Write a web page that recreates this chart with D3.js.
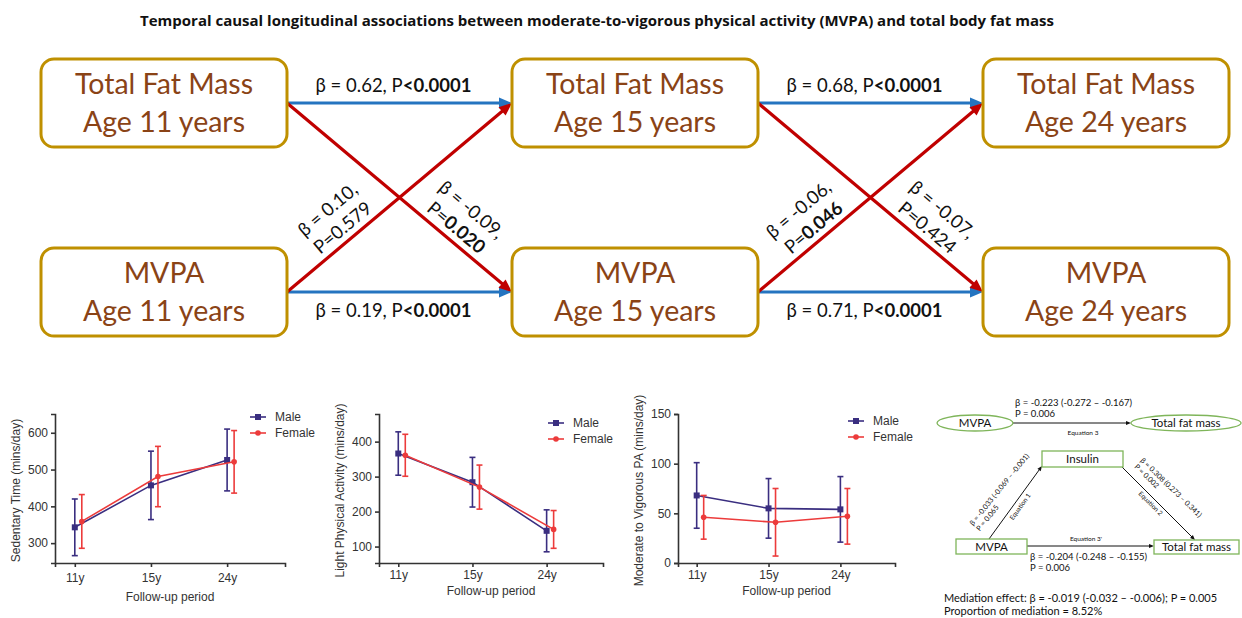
<!DOCTYPE html>
<html>
<head>
<meta charset="utf-8">
<script src="https://cdn.jsdelivr.net/npm/d3@7"></script>
<style>
  body { margin: 0; background: #fff; }
  svg { display: block; }
</style>
</head>
<body>
<svg id="fig" width="1242" height="618"></svg>
<script>
const title = 'Temporal causal longitudinal associations between moderate-to-vigorous physical activity (MVPA) and total body fat mass';

// cross-lagged diagram
const ages = ['11', '15', '24'];
const measures = ['Total Fat Mass', 'MVPA'];
// from/to = [measure index, age index]
const pathEdges = [
  { from: [0, 0], to: [0, 1], beta: '0.62', op: '<', p: '0.0001', sig: true },
  { from: [1, 0], to: [1, 1], beta: '0.19', op: '<', p: '0.0001', sig: true },
  { from: [1, 0], to: [0, 1], beta: '0.10', op: '=', p: '0.579', sig: false },
  { from: [0, 0], to: [1, 1], beta: '-0.09', op: '=', p: '0.020', sig: true },
  { from: [0, 1], to: [0, 2], beta: '0.68', op: '<', p: '0.0001', sig: true },
  { from: [1, 1], to: [1, 2], beta: '0.71', op: '<', p: '0.0001', sig: true },
  { from: [1, 1], to: [0, 2], beta: '-0.06', op: '=', p: '0.046', sig: true },
  { from: [0, 1], to: [1, 2], beta: '-0.07', op: '=', p: '0.424', sig: false }
];

// line charts (mean and SD)
const followUp = ['11y', '15y', '24y'];
const sedMale = [343, 457, 526];
const sedMaleSd = [77, 93, 84];
const sedFemale = [359, 481, 521];
const sedFemaleSd = [73, 82, 85];
const lpaMale = [366, 284, 145];
const lpaMaleSd = [62, 71, 60];
const lpaFemale = [361, 270, 149];
const lpaFemaleSd = [60, 63, 54];
const mvpaMale = [68, 55, 54];
const mvpaMaleSd = [33, 30, 33];
const mvpaFemale = [46, 41, 47];
const mvpaFemaleSd = [22, 34, 28];

// mediation
const medTotal = { beta: '-0.223', ci: '-0.272 – -0.167', p: '0.006' };
const medEq1 = { beta: '-0.033', ci: '-0.069 – -0.001', p: '0.065' };
const medEq2 = { beta: '0.308', ci: '0.273 – 0.341', p: '0.002' };
const medDirect = { beta: '-0.204', ci: '-0.248 – -0.155', p: '0.006' };
const medEffect = 'Mediation effect: β = -0.019 (-0.032 – -0.006); P = 0.005';
const medProportion = 'Proportion of mediation = 8.52%';

const svg = d3.select('#fig');
const BLUE = '#2474c0', RED = '#c00000', GOLD = '#bf9000', BROWN = '#8a4316';
const MALE = '#3a2e80', FEMALE = '#ec3b3b';
const diagFont = 'Lato, "Open Sans", sans-serif';
const chartFont = '"Liberation Sans", Arial, sans-serif';

// title
svg.append('text')
  .attr('x', 597).attr('y', 26)
  .attr('text-anchor', 'middle')
  .attr('font-family', '"Open Sans", sans-serif').attr('font-weight', 700).attr('font-size', 15)
  .attr('fill', '#111')
  .text(title);

// ---------- cross-lagged diagram ----------
const boxW = 246, boxH = 88;
const colX = d3.scaleLinear().domain([0, 2]).range([41, 983]);
const rowY = d3.scaleLinear().domain([0, 1]).range([59, 248]);

function arrow(g, x1, y1, x2, y2, color, w, headL, headW) {
  const dx = x2 - x1, dy = y2 - y1, len = Math.hypot(dx, dy);
  const ux = dx / len, uy = dy / len;
  const bx = x2 - ux * headL, by = y2 - uy * headL;
  g.append('line')
    .attr('x1', x1).attr('y1', y1).attr('x2', bx + ux * 1).attr('y2', by + uy * 1)
    .attr('stroke', color).attr('stroke-width', w);
  g.append('path')
    .attr('d', `M${x2},${y2}L${bx - uy * headW / 2},${by + ux * headW / 2}L${bx + uy * headW / 2},${by - ux * headW / 2}Z`)
    .attr('fill', color);
}

const diag = svg.append('g');
const straight = pathEdges.filter(e => e.from[0] === e.to[0]);
const cross = pathEdges.filter(e => e.from[0] !== e.to[0]);

[...straight, ...cross].forEach(e => {
  const x1 = colX(e.from[1]) + boxW, y1 = rowY(e.from[0]) + boxH / 2;
  const x2 = colX(e.to[1]), y2 = rowY(e.to[0]) + boxH / 2;
  arrow(diag, x1, y1, x2, y2, e.from[0] === e.to[0] ? BLUE : RED, 3.2, 13, 11);
});

// boxes
measures.forEach((m, mi) => {
  ages.forEach((a, ai) => {
    const g = diag.append('g').attr('transform', `translate(${colX(ai)},${rowY(mi)})`);
    g.append('rect')
      .attr('x', 0).attr('y', 0).attr('width', boxW).attr('height', boxH)
      .attr('rx', 13)
      .attr('fill', '#fff').attr('stroke', GOLD).attr('stroke-width', 3);
    [m, `Age ${a} years`].forEach((t, i) => {
      g.append('text')
        .attr('x', boxW / 2).attr('y', 35 + i * 38)
        .attr('text-anchor', 'middle')
        .attr('font-family', diagFont).attr('font-size', 28.5)
        .attr('fill', BROWN)
        .text(t);
    });
  });
});

// labels on horizontal arrows
straight.forEach(e => {
  const xm = (colX(e.from[1]) + boxW + colX(e.to[1])) / 2 - 6;
  const yLine = rowY(e.from[0]) + boxH / 2;
  const t = diag.append('text')
    .attr('x', xm).attr('y', e.from[0] === 0 ? yLine - 11 : yLine + 25)
    .attr('text-anchor', 'middle')
    .attr('font-family', diagFont).attr('font-size', 18.5).attr('fill', '#111');
  t.append('tspan').text(`β = ${e.beta}, P`);
  t.append('tspan').attr('font-weight', 700).text(e.op + e.p);
});

// labels on crossing arrows
cross.forEach(e => {
  const up = e.from[0] === 1;
  const x1 = colX(e.from[1]) + boxW, x2 = colX(e.to[1]);
  const yTop = rowY(0) + boxH / 2, yBot = rowY(1) + boxH / 2;
  const cx = (x1 + x2) / 2, cy = (yTop + yBot) / 2;
  const ang = Math.atan2(yBot - yTop, x2 - x1) * 180 / Math.PI * (up ? -1 : 1);
  const side = up ? -1 : 1;
  const lines = [
    { dx: side * 72, dy: 12, parts: [[`β = ${e.beta},`, 400]] },
    { dx: side * 57, dy: 30, parts: [['P=', 400], [e.p, e.sig ? 700 : 400]] }
  ];
  lines.forEach(l => {
    const t = diag.append('text')
      .attr('transform', `translate(${cx + l.dx},${cy + l.dy}) rotate(${ang})`)
      .attr('text-anchor', 'middle').attr('dy', '0.35em')
      .attr('font-family', diagFont).attr('font-size', 18.5).attr('fill', '#111');
    l.parts.forEach(([s, w]) => t.append('tspan').attr('font-weight', w).text(s));
  });
});

// ---------- line charts ----------
const charts = [
  {
    x0: 55, x1: 285, yDomain: [246, 651], yTicks: [300, 400, 500, 600],
    yLabel: 'Sedentary Time (mins/day)', titleY: 601, tickPad: 6,
    legend: [250, 417],
    male: sedMale, maleSd: sedMaleSd, female: sedFemale, femaleSd: sedFemaleSd
  },
  {
    x0: 379, x1: 603, yDomain: [53, 479], yTicks: [100, 200, 300, 400],
    yLabel: 'Light Physical Activity (mins/day)', titleY: 595, tickPad: 3,
    legend: [548, 423],
    male: lpaMale, maleSd: lpaMaleSd, female: lpaFemale, femaleSd: lpaFemaleSd
  },
  {
    x0: 678, x1: 895, yDomain: [0, 150], yTicks: [0, 50, 100, 150],
    yLabel: 'Moderate to Vigorous PA (mins/day)', titleY: 595, tickPad: 3,
    legend: [848, 421],
    male: mvpaMale, maleSd: mvpaMaleSd, female: mvpaFemale, femaleSd: mvpaFemaleSd
  }
];
const yTop = 414, yBottom = 563;

charts.forEach(c => {
  const g = svg.append('g');
  const x = d3.scaleLinear().domain([-0.26, 2.76]).range([c.x0, c.x1]);
  const y = d3.scaleLinear().domain(c.yDomain).range([yBottom, yTop]);

  const series = [
    { name: 'Male', vals: c.male, sd: c.maleSd, color: MALE, off: 0, square: true },
    { name: 'Female', vals: c.female, sd: c.femaleSd, color: FEMALE, off: 7, square: false }
  ];

  series.forEach(s => {
    const pts = s.vals.map((v, i) => ({ i, v, sd: s.sd[i] }));
    const sg = g.append('g');
    sg.append('path')
      .datum(pts)
      .attr('fill', 'none').attr('stroke', s.color).attr('stroke-width', 1.6)
      .attr('d', d3.line().x(d => x(d.i) + s.off).y(d => y(d.v)));
    sg.selectAll('line.err')
      .data(pts)
      .join('line')
      .attr('x1', d => x(d.i) + s.off).attr('x2', d => x(d.i) + s.off)
      .attr('y1', d => y(d.v - d.sd)).attr('y2', d => y(d.v + d.sd))
      .attr('stroke', s.color).attr('stroke-width', 1.6);
    [-1, 1].forEach(k => {
      sg.selectAll(null)
        .data(pts)
        .join('line')
        .attr('x1', d => x(d.i) + s.off - 3).attr('x2', d => x(d.i) + s.off + 3)
        .attr('y1', d => y(d.v + k * d.sd)).attr('y2', d => y(d.v + k * d.sd))
        .attr('stroke', s.color).attr('stroke-width', 1.6);
    });
    if (s.square) {
      sg.selectAll('rect')
        .data(pts)
        .join('rect')
        .attr('x', d => x(d.i) + s.off - 3).attr('y', d => y(d.v) - 3)
        .attr('width', 6).attr('height', 6)
        .attr('fill', s.color);
    } else {
      sg.selectAll('circle')
        .data(pts)
        .join('circle')
        .attr('cx', d => x(d.i) + s.off).attr('cy', d => y(d.v))
        .attr('r', 2.8)
        .attr('fill', s.color);
    }
  });

  // axes
  g.append('g')
    .attr('transform', `translate(0,${yBottom})`)
    .attr('color', '#333')
    .call(d3.axisBottom(x).tickValues([0, 1, 2]).tickFormat(i => followUp[i])
      .tickSizeOuter(0).tickSize(4).tickPadding(c.tickPad))
    .call(a => a.selectAll('path, line').attr('stroke-width', 1.6))
    .call(a => a.selectAll('text').attr('font-family', chartFont).attr('font-size', 12));
  g.append('g')
    .attr('transform', `translate(${c.x0},0)`)
    .attr('color', '#333')
    .call(d3.axisLeft(y).tickValues(c.yTicks).tickSizeOuter(0).tickSize(4).tickPadding(3))
    .call(a => a.selectAll('path, line').attr('stroke-width', 1.6))
    .call(a => a.selectAll('text').attr('font-family', chartFont).attr('font-size', 12));

  g.append('text')
    .attr('transform', `translate(${c.x0 - 35},${(yTop + yBottom) / 2 + 2}) rotate(-90)`)
    .attr('text-anchor', 'middle')
    .attr('font-family', chartFont).attr('font-size', 12).attr('fill', '#333')
    .text(c.yLabel);
  g.append('text')
    .attr('x', (c.x0 + c.x1) / 2).attr('y', c.titleY)
    .attr('text-anchor', 'middle')
    .attr('font-family', chartFont).attr('font-size', 12).attr('fill', '#333')
    .text('Follow-up period');

  // legend
  series.forEach((s, i) => {
    const ly = c.legend[1] + i * 16;
    const lx = c.legend[0];
    g.append('line')
      .attr('x1', lx).attr('x2', lx + 16).attr('y1', ly).attr('y2', ly)
      .attr('stroke', s.color).attr('stroke-width', 1.6);
    if (s.square) {
      g.append('rect').attr('x', lx + 5).attr('y', ly - 3).attr('width', 6).attr('height', 6).attr('fill', s.color);
    } else {
      g.append('circle').attr('cx', lx + 8).attr('cy', ly).attr('r', 2.8).attr('fill', s.color);
    }
    g.append('text')
      .attr('x', lx + 25).attr('y', ly).attr('dy', '0.35em')
      .attr('font-family', chartFont).attr('font-size', 12).attr('fill', '#333')
      .text(s.name);
  });
});

// ---------- mediation diagram ----------
const GREEN = '#7fb55a';
const med = svg.append('g').attr('font-family', diagFont).attr('fill', '#111');
const medNodes = {
  topM: { kind: 'ellipse', cx: 975, cy: 423, rx: 38, ry: 8, label: 'MVPA' },
  topF: { kind: 'ellipse', cx: 1186, cy: 423, rx: 55, ry: 8, label: 'Total fat mass' },
  ins: { kind: 'rect', x: 1042, y: 451, w: 81, h: 16, label: 'Insulin' },
  botM: { kind: 'rect', x: 956, y: 539, w: 71, h: 15, label: 'MVPA' },
  botF: { kind: 'rect', x: 1154, y: 540, w: 85, h: 14, label: 'Total fat mass' }
};

arrow(med, 1013, 423, 1131, 423, '#111', 1, 5, 4);
arrow(med, 989, 539, 1042, 466, '#111', 1, 5, 4);
arrow(med, 1122, 467, 1195, 540, '#111', 1, 5, 4);
arrow(med, 1027, 546, 1154, 546, '#111', 1, 5, 4);

Object.values(medNodes).forEach(n => {
  if (n.kind === 'ellipse') {
    med.append('ellipse')
      .attr('cx', n.cx).attr('cy', n.cy).attr('rx', n.rx).attr('ry', n.ry)
      .attr('fill', '#fff').attr('stroke', GREEN).attr('stroke-width', 1.3);
  } else {
    med.append('rect')
      .attr('x', n.x).attr('y', n.y).attr('width', n.w).attr('height', n.h)
      .attr('fill', '#fff').attr('stroke', GREEN).attr('stroke-width', 1.3);
    n.cx = n.x + n.w / 2; n.cy = n.y + n.h / 2;
  }
  med.append('text')
    .attr('x', n.cx).attr('y', n.cy).attr('dy', '0.35em')
    .attr('text-anchor', 'middle').attr('font-size', 11.5)
    .text(n.label);
});

function medText(x, y, lines, size, angle, anchor) {
  const t = med.append('text')
    .attr('transform', `translate(${x},${y}) rotate(${angle || 0})`)
    .attr('text-anchor', anchor || 'start').attr('font-size', size);
  lines.forEach((l, i) => t.append('tspan').attr('x', 0).attr('y', i * size * 1.2).text(l));
}

medText(1015, 406, [`β = ${medTotal.beta} (${medTotal.ci})`, `P = ${medTotal.p}`], 9.5);
medText(1083, 435, ['Equation 3'], 6.5, 0, 'middle');
medText(1086, 541, ["Equation 3'"], 6.5, 0, 'middle');
medText(1030, 560, [`β = ${medDirect.beta} (${medDirect.ci})`, `P = ${medDirect.p}`], 9.5);
medText(973, 526, [`β = ${medEq1.beta} (${medEq1.ci})`, `P = ${medEq1.p}`], 7.3, -51);
medText(1022, 508, ['Equation 1'], 6.5, -54, 'middle');
medText(1140, 461, [`β = ${medEq2.beta} (${medEq2.ci})`, `P = ${medEq2.p}`], 7.3, 44);
medText(1149, 505, ['Equation 2'], 6.5, 45, 'middle');
medText(944, 602, [medEffect, medProportion], 11);
</script>
</body>
</html>
